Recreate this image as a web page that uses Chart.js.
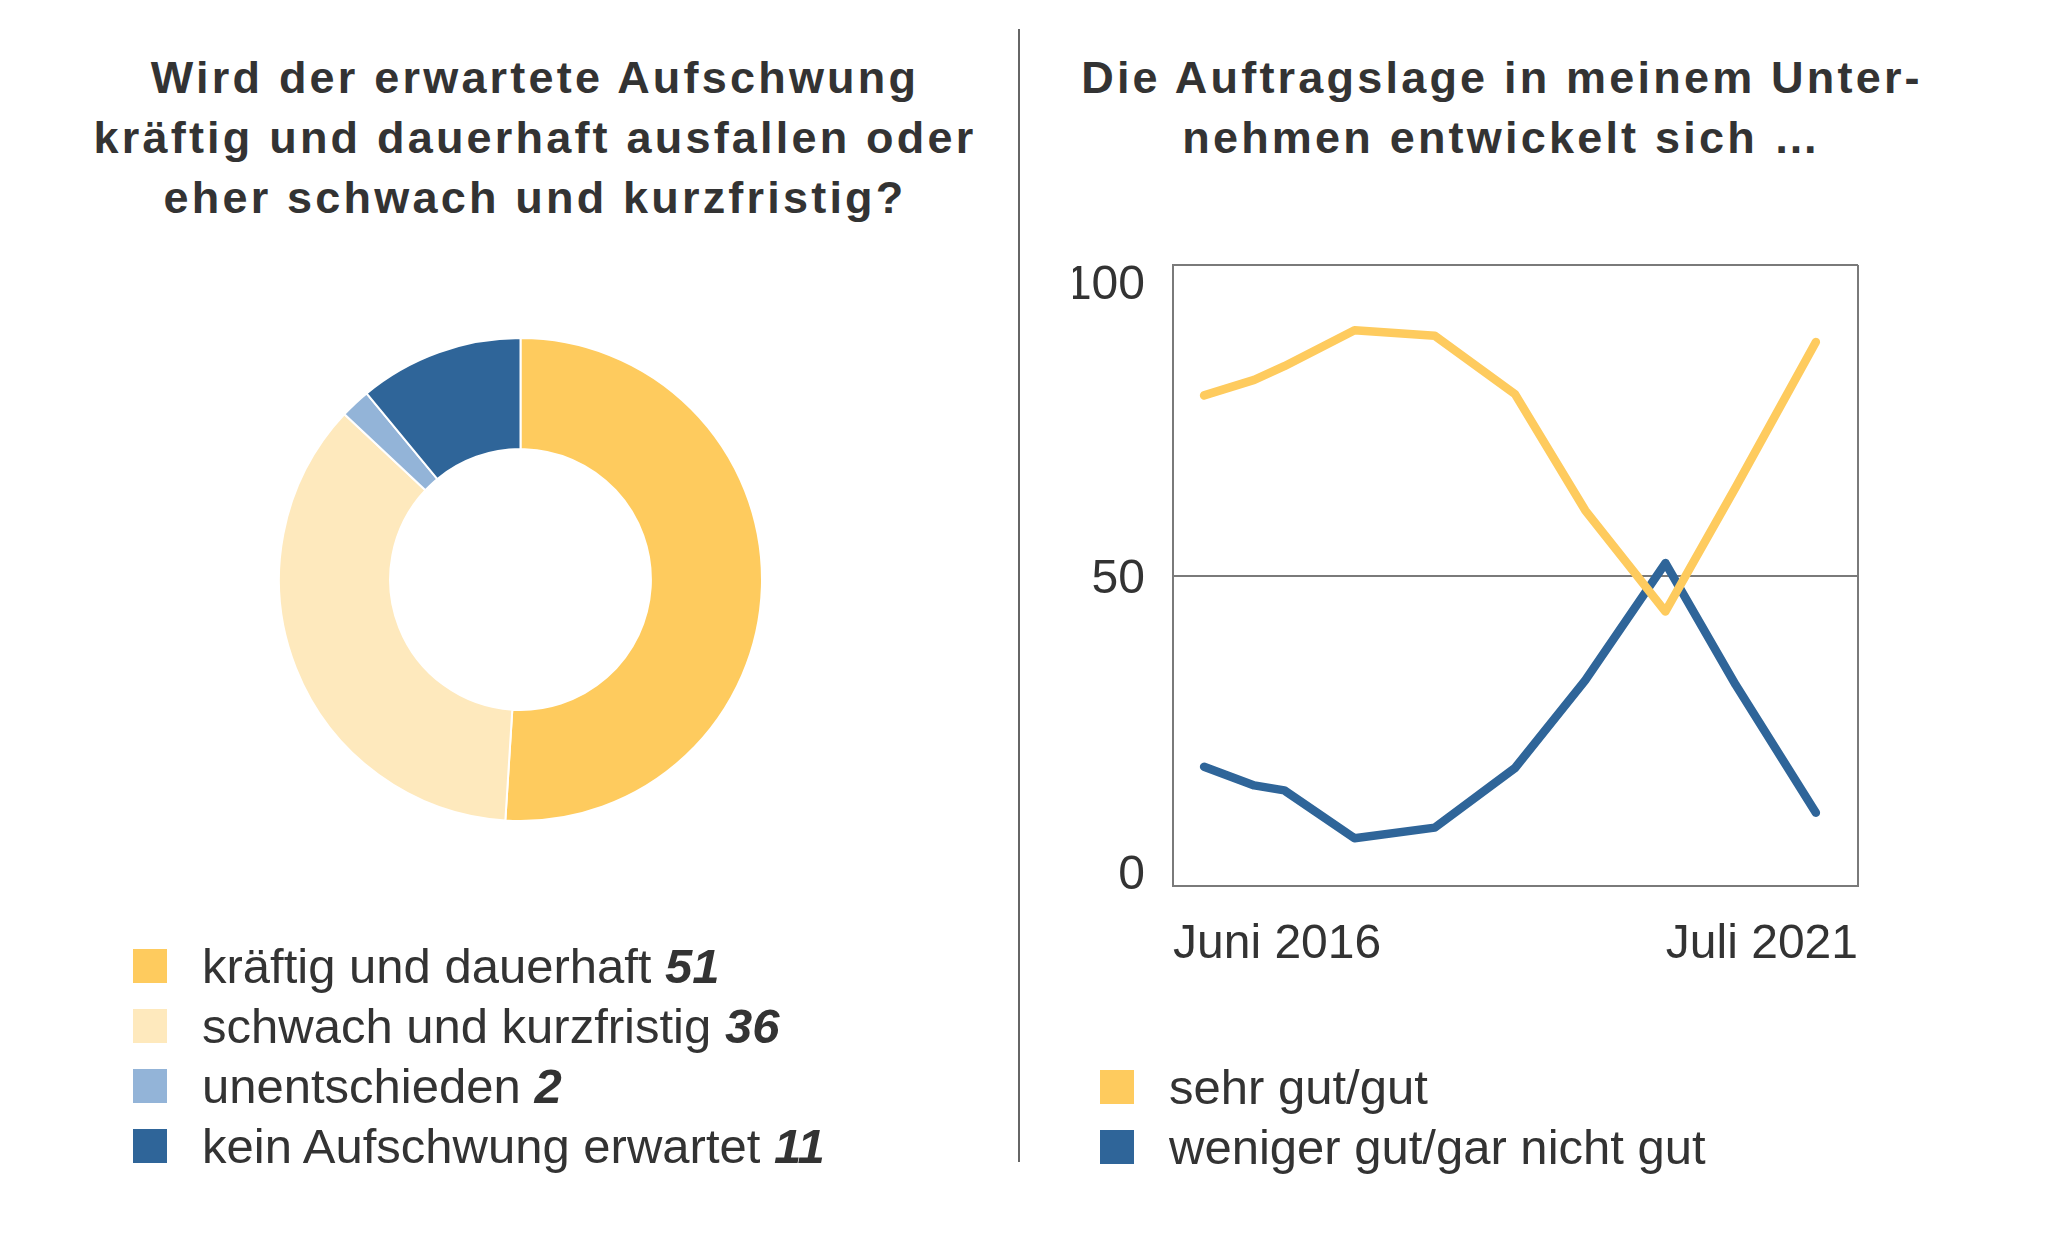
<!DOCTYPE html>
<html>
<head>
<meta charset="utf-8">
<script src="https://cdn.jsdelivr.net/npm/chart.js@4.4.0/dist/chart.umd.min.js"></script>
<style>
  html, body { margin: 0; padding: 0; background: #ffffff; }
  body { width: 2048px; height: 1255px; position: relative; overflow: hidden;
         font-family: "Liberation Sans", Arial, sans-serif; color: #333; }
  .title { position: absolute; top: 48px; width: 1000px; text-align: center;
           font-family: "Liberation Sans", Arial, sans-serif; font-weight: 700;
           font-size: 45px; line-height: 60px; letter-spacing: 3.2px; color: #333; }
  .divider { position: absolute; left: 1018px; top: 29px; width: 2px; height: 1133px; background: #666; }
  .legend { position: absolute; font-size: 49px; line-height: 60px; color: #333; }
  .legend .row { display: flex; align-items: center; height: 60px; white-space: pre; }
  .legend .sw { width: 34px; height: 34px; margin-right: 35px; flex: none; }
  .legend b { font-weight: 700; font-style: italic; }
  .box { position: absolute; }
</style>
</head>
<body>
<div class="title" id="titleLeft" style="left:35px;"></div>
<div class="title" id="titleRight" style="left:1002px;"></div>
<div class="divider"></div>

<div class="box" id="donutBox" style="left:278px; top:337px; width:485px; height:485px;"><canvas id="donut"></canvas></div>
<div class="box" id="lineBox" style="left:1073px; top:225px; width:815px; height:751px;"><canvas id="line"></canvas></div>

<div class="legend" id="legendLeft" style="left:133px; top:936px;"></div>
<div class="legend" id="legendRight" style="left:1100px; top:1057px;"></div>

<script>
// ---------- data ----------
const titleLeftLines = ['Wird der erwartete Aufschwung', 'kräftig und dauerhaft ausfallen oder', 'eher schwach und kurzfristig?'];
const titleRightLines = ['Die Auftragslage in meinem Unter-', 'nehmen entwickelt sich …'];

const donutLabels = ['kräftig und dauerhaft', 'schwach und kurzfristig', 'unentschieden', 'kein Aufschwung erwartet'];
const donutValues = [51, 36, 2, 11];
const donutColors = ['#FECB5E', '#FEE9BD', '#93B4D8', '#2F6599'];

const lineSeriesNames = ['sehr gut/gut', 'weniger gut/gar nicht gut'];
const lineColors = ['#FECB5E', '#2F6599'];
// survey dates, months after June 2016
const surveyMonths = [0, 5, 8, 15, 23, 31, 38, 46, 53, 61];
const sehrGutGut = [79.0, 81.5, 83.7, 89.5, 88.6, 79.2, 60.5, 44.2, 64.2, 87.6];
const wenigerGut = [19.2, 16.2, 15.4, 7.7, 9.4, 19.0, 33.1, 52.0, 32.4, 11.8];
const xTickLabels = ['Juni 2016', 'Juli 2021'];
const yTickValues = [0, 50, 100];
const yTickLabels = ['0', '50', '100'];

// ---------- styles ----------
const FONT_FAMILY = '"Liberation Sans", Arial, sans-serif';
const TEXT_COLOR = '#333333';
const FRAME_COLOR = '#7a7a7a';
const TICK_SIZE = 48;

document.getElementById('titleLeft').innerHTML = titleLeftLines.join('<br>');
document.getElementById('titleRight').innerHTML = titleRightLines.join('<br>');

function buildLegend(el, labels, colors, values) {
  labels.forEach((lbl, i) => {
    const row = document.createElement('div');
    row.className = 'row';
    const sw = document.createElement('span');
    sw.className = 'sw';
    sw.style.background = colors[i];
    const tx = document.createElement('span');
    tx.appendChild(document.createTextNode(lbl));
    if (values) {
      tx.appendChild(document.createTextNode(' '));
      const b = document.createElement('b');
      b.textContent = String(values[i]);
      tx.appendChild(b);
    }
    row.appendChild(sw);
    row.appendChild(tx);
    el.appendChild(row);
  });
}
buildLegend(document.getElementById('legendLeft'), donutLabels, donutColors, donutValues);
buildLegend(document.getElementById('legendRight'), lineSeriesNames, lineColors, null);

Chart.defaults.font.family = FONT_FAMILY;
Chart.defaults.color = TEXT_COLOR;

new Chart(document.getElementById('donut'), {
  type: 'doughnut',
  data: {
    labels: donutLabels,
    datasets: [{
      data: donutValues,
      backgroundColor: donutColors,
      borderColor: '#ffffff',
      borderWidth: 2,
      hoverOffset: 0
    }]
  },
  options: {
    responsive: true,
    maintainAspectRatio: false,
    devicePixelRatio: 1,
    animation: false,
    cutout: '54%',
    layout: { padding: 0 },
    plugins: { legend: { display: false }, tooltip: { enabled: false } }
  }
});

const yTickLabelPlugin = {
  id: 'yTickLabels',
  afterDraw(chart) {
    const { ctx, chartArea } = chart;
    const y = chart.scales.y;
    const capH = TICK_SIZE * 0.716;
    ctx.save();
    ctx.font = TICK_SIZE + 'px ' + FONT_FAMILY;
    ctx.fillStyle = TEXT_COLOR;
    ctx.textAlign = 'right';
    ctx.textBaseline = 'alphabetic';
    yTickValues.forEach((v, i) => {
      const py = y.getPixelForValue(v);
      let by;
      if (v >= y.max) by = py + capH;
      else if (v <= y.min) by = py + 3;
      else by = py + capH / 2;
      ctx.fillText(yTickLabels[i], chartArea.left - 28, by);
    });
    ctx.restore();
  }
};

new Chart(document.getElementById('line'), {
  type: 'line',
  data: {
    datasets: [
      { label: lineSeriesNames[0], data: surveyMonths.map((m, i) => ({ x: m, y: sehrGutGut[i] })),
        borderColor: lineColors[0], backgroundColor: lineColors[0], borderWidth: 8.5,
        pointRadius: 0, tension: 0, borderCapStyle: 'round', borderJoinStyle: 'round' },
      { label: lineSeriesNames[1], data: surveyMonths.map((m, i) => ({ x: m, y: wenigerGut[i] })),
        borderColor: lineColors[1], backgroundColor: lineColors[1], borderWidth: 8.5,
        pointRadius: 0, tension: 0, borderCapStyle: 'round', borderJoinStyle: 'round' }
    ]
  },
  options: {
    responsive: true,
    maintainAspectRatio: false,
    devicePixelRatio: 1,
    animation: false,
    layout: { padding: { left: 100, top: 40, right: 30, bottom: 0 } },
    plugins: { legend: { display: false }, tooltip: { enabled: false } },
    scales: {
      x: {
        type: 'linear',
        min: -3.1,
        max: 65.2,
        afterBuildTicks(scale) { scale.ticks = [{ value: scale.min }, { value: scale.max }]; },
        afterFit(scale) { scale.height = 90; },
        ticks: {
          align: 'inner',
          padding: 30,
          maxRotation: 0,
          autoSkip: false,
          font: { size: TICK_SIZE },
          color: TEXT_COLOR,
          callback: (v, i) => xTickLabels[i]
        },
        grid: { color: FRAME_COLOR, lineWidth: 2, drawTicks: false },
        border: { display: true, color: FRAME_COLOR, width: 2 }
      },
      y: {
        min: 0,
        max: 100,
        afterBuildTicks(scale) { scale.ticks = yTickValues.map(v => ({ value: v })); },
        afterFit(scale) { scale.width = 0; },
        ticks: { display: false },
        grid: { color: FRAME_COLOR, lineWidth: 2, drawTicks: false },
        border: { display: true, color: FRAME_COLOR, width: 2 }
      }
    }
  },
  plugins: [yTickLabelPlugin]
});
</script>
</body>
</html>
